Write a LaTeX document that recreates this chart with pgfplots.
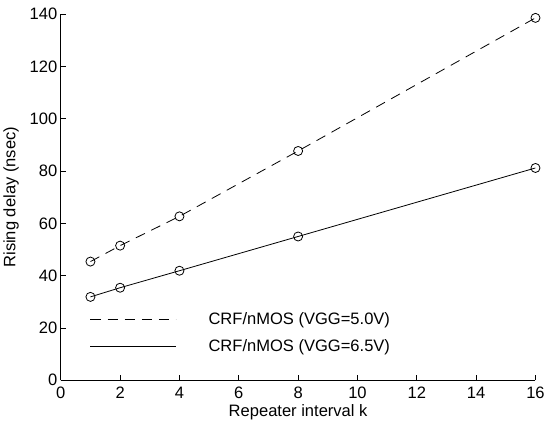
\documentclass[border=0pt]{standalone}
\usepackage{fontspec}
\setmainfont{Liberation Sans}
\usepackage{pgfplots}
\pgfplotsset{compat=1.18}
\begin{document}
\begin{tikzpicture}
  \begin{axis}[
    name=ax,
    scale only axis,
    width=472bp, height=364bp,
    xmin=0, xmax=16, ymin=0, ymax=140,
    xtick={0,2,...,16},
    ytick={0,20,...,140},
    axis lines*=left,
    tick align=inside,
    major tick length=5bp,
    axis line style={line width=0.9bp},
    every tick/.style={black, line width=0.8bp},
    /pgf/number format/assume math mode=true,
    tick label style={font=\fontsize{16.5}{19}\selectfont},
    xticklabel style={yshift=-3bp},
    label style={font=\fontsize{16.5}{19}\selectfont},
    xlabel={Repeater interval k},
    ylabel={Rising delay (nsec)},
    xlabel style={yshift=1bp},
    ylabel style={yshift=4bp},
    legend style={draw=none, fill=none, font=\fontsize{16.5}{19}\selectfont,
      at={(rel axis cs:0.055,0.197)}, anchor=north west,
      row sep=10bp},
    legend cell align=left,
    legend image code/.code={\draw[#1] (0bp,0bp) -- (85bp,0bp);},
  ]
  % VGG = 5.0 V
  \addplot[black, line width=0.8bp, dash pattern=on 10bp off 7bp,
    mark=o, mark size=4.5bp, mark options={solid}] coordinates {
    (1,45.4) (2,51.5) (4,62.7) (8,87.7) (16,138.6)
  };
  \addlegendentry{\hspace{30bp}CRF/nMOS (VGG=5.0V)}
  % VGG = 6.5 V
  \addplot[black, line width=0.8bp, solid,
    mark=o, mark size=4.5bp] coordinates {
    (1,31.9) (2,35.4) (4,41.9) (8,55.0) (16,81.2)
  };
  \addlegendentry{\hspace{30bp}CRF/nMOS (VGG=6.5V)}
  \end{axis}
  % white margin above and below, as in the scan
  \path ([yshift=5bp]ax.outer north) -- ([yshift=-7bp]ax.outer south);
\end{tikzpicture}
\end{document}
